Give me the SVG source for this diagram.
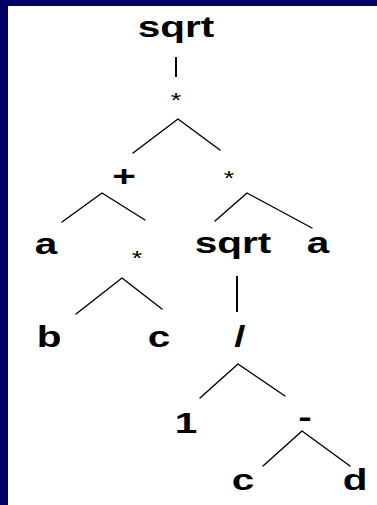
<svg xmlns="http://www.w3.org/2000/svg" width="377" height="505" viewBox="0 0 377 505">
<style>
.t{font-family:"Liberation Sans",Arial,sans-serif;font-weight:bold;font-size:30px;text-anchor:middle;fill:#000}
.s{font-family:"Liberation Sans",Arial,sans-serif;font-size:20px;text-anchor:middle;fill:#000}
.e{stroke:#000;stroke-width:1.4;fill:none;stroke-linecap:round;stroke-linejoin:round}
.v{stroke:#000;stroke-width:2;fill:none}
</style>
<rect x="0" y="0" width="377" height="505" fill="#fff"/>
<rect x="0" y="0" width="377" height="6" fill="#000066"/>
<rect x="0" y="0" width="8" height="505" fill="#000066"/>
<g id="connectors">
<line class="v" x1="176" y1="57" x2="176" y2="77"/>
<polyline class="e" points="133,153 178,119 220,150"/>
<polyline class="e" points="62,222 102,193 145,220"/>
<polyline class="e" points="215,221 247,193 312,228"/>
<polyline class="e" points="76,314 122,278 162,309"/>
<line class="v" x1="237" y1="276" x2="237" y2="312"/>
<polyline class="e" points="200,398 238,364 285,396"/>
<polyline class="e" points="263,466 302,431 350,466"/>
</g>
<g id="n-sqrt1"><text class="t" transform="translate(176,37) scale(1.35,1)">sqrt</text></g>
<g id="n-mul1"><text class="s" transform="translate(176,107) scale(1.35,1)">*</text></g>
<g id="n-plus"><text class="t" transform="translate(124,186) scale(1.35,1)">+</text></g>
<g id="n-mul2"><text class="s" transform="translate(229,185) scale(1.35,1)">*</text></g>
<g id="n-a1"><text class="t" transform="translate(46,254) scale(1.35,1)">a</text></g>
<g id="n-mul3"><text class="s" transform="translate(137,265) scale(1.35,1)">*</text></g>
<g id="n-sqrt2"><text class="t" transform="translate(233,253) scale(1.35,1)">sqrt</text></g>
<g id="n-a2"><text class="t" transform="translate(318,253) scale(1.35,1)">a</text></g>
<g id="n-b"><text class="t" transform="translate(49,347) scale(1.35,1)">b</text></g>
<g id="n-c1"><text class="t" transform="translate(159,347) scale(1.35,1)">c</text></g>
<g id="n-div"><text class="t" transform="translate(240,347) scale(1.35,1)">/</text></g>
<g id="n-one"><text class="t" transform="translate(186,433) scale(1.35,1)">1</text></g>
<g id="n-minus"><text class="t" transform="translate(305,427) scale(1.35,1)">-</text></g>
<g id="n-c2"><text class="t" transform="translate(243,490) scale(1.35,1)">c</text></g>
<g id="n-d"><text class="t" transform="translate(355,490) scale(1.35,1)">d</text></g>
</svg>
